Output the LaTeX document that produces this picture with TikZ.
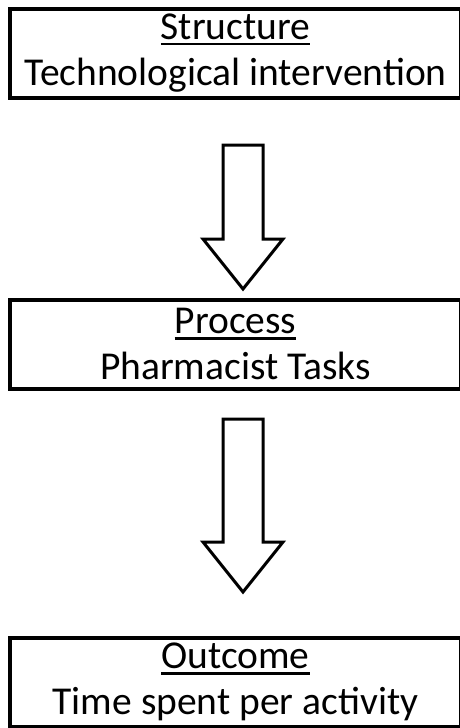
\documentclass[tikz,border=0pt]{standalone}
\usepackage{fontspec}
\setmainfont{Carlito}
\usetikzlibrary{positioning}
% thick underline for the box headings
\newcommand\headword[1]{\setbox0\hbox{#1}\rlap{\rule[-6pt]{\wd0}{2.5pt}}\box0}
% block arrow: x, top y, tip y
\newcommand\blockarrow[3]{\draw[flow] (#1-20,#2) -- (#1+20,#2) -- (#1+20,#3-50)
    -- (#1+40,#3-50) -- (#1,#3) -- (#1-40,#3-50) -- (#1-20,#3-50) -- cycle;}
\tikzset{stage/.style={draw,line width=4pt,minimum width=451pt,minimum height=89pt,
    align=center,inner sep=0pt,font=\fontsize{39.5}{46}\selectfont}}
\tikzset{flow/.style={draw,line width=3pt,line join=miter,fill=white}}

\begin{document}
\begin{tikzpicture}[x=1pt,y=-1pt]
    \useasboundingbox (0,0) rectangle (459,728);
    \node[stage] (S) at (235.5,53) {\headword{Structure}\\Technological intervention};
    \node[stage] (P) at (235.5,344) {\headword{Process}\\Pharmacist Tasks};
    \node[stage] (O) at (235.5,682) {\headword{Outcome}\\Time spent per activity};

    \blockarrow{243}{145}{289}
    \blockarrow{243}{419}{592}
\end{tikzpicture}
\end{document}
